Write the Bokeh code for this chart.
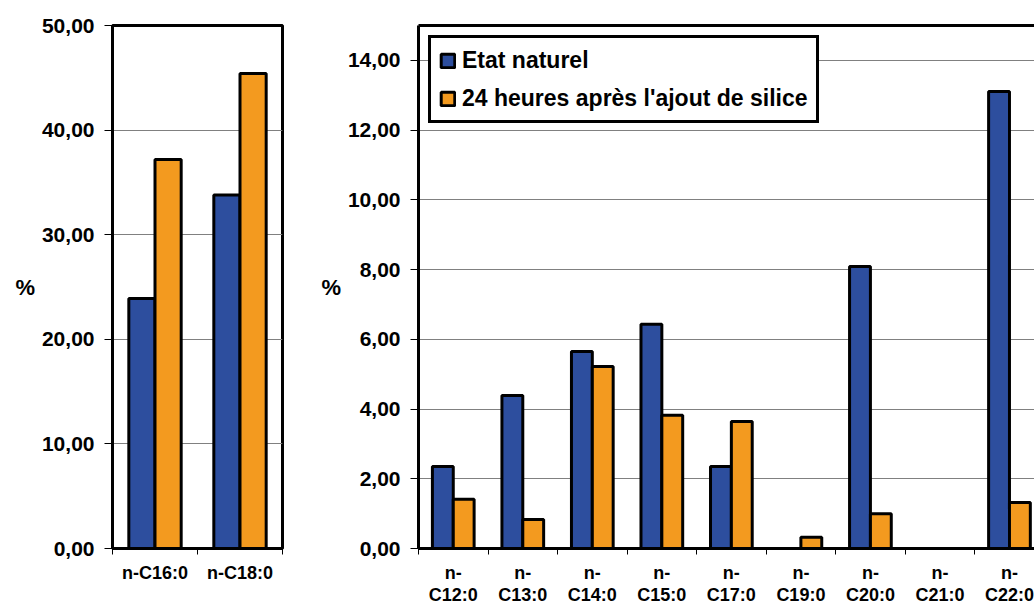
import numpy as np
from bokeh.plotting import figure
from bokeh.models import Range1d, FixedTicker, Legend, LegendItem, LinearAxis, ColumnDataSource
from bokeh.transform import dodge
from bokeh.layouts import row
from bokeh.embed import file_html
from bokeh.resources import INLINE

# ---------------- data ----------------
series_names = ["Etat naturel", "24 heures après l'ajout de silice"]

left_categories = ["n-C16:0", "n-C18:0"]
left_natural = [23.9, 33.8]
left_silica = [37.2, 45.4]
left_y_ticks = [0, 10, 20, 30, 40, 50]

right_categories = ["n-C12:0", "n-C13:0", "n-C14:0", "n-C15:0", "n-C17:0",
                    "n-C19:0", "n-C20:0", "n-C21:0", "n-C22:0"]
right_natural = [2.35, 4.39, 5.65, 6.43, 2.35, 0.0, 8.09, 0.0, 13.11]
right_silica = [1.41, 0.83, 5.22, 3.82, 3.64, 0.32, 1.00, 0.0, 1.32]
right_y_ticks = [0, 2, 4, 6, 8, 10, 12, 14]

BLUE = "#2D4E9E"
ORANGE = "#F39A1F"
FONT = "Liberation Sans"


def fmt(v):
    return f"{v:.2f}".replace(".", ",")


def style(p, cats, yticks, xlabels):
    n = len(cats)
    centers = list(np.arange(n) + 0.5)
    bounds = list(np.arange(n + 1).astype(float))
    p.background_fill_color = "white"
    p.border_fill_color = "white"
    p.xgrid.grid_line_color = None
    p.ygrid.ticker = FixedTicker(ticks=yticks)
    p.ygrid.grid_line_color = "#808080"
    p.ygrid.grid_line_width = 1

    ya = p.yaxis[0]
    ya.ticker = FixedTicker(ticks=yticks)
    ya.major_label_overrides = {v: fmt(v) for v in yticks}
    ya.major_label_text_font = FONT
    ya.major_label_text_font_style = "bold"
    ya.major_label_text_font_size = "21px"
    ya.major_label_text_color = "black"
    ya.major_tick_out = 8
    ya.major_tick_in = 0
    ya.major_tick_line_color = "black"
    ya.minor_tick_line_color = None
    ya.major_label_standoff = 10
    ya.axis_label = "%"
    ya.axis_label_orientation = "horizontal"
    ya.axis_label_text_font = FONT
    ya.axis_label_text_font_style = "bold"
    ya.axis_label_text_font_size = "22px"
    ya.axis_label_text_color = "black"
    ya.axis_label_text_baseline = "top"
    ya.axis_label_standoff = 4
    ya.axis_line_width = 3

    xa = p.xaxis[0]
    xa.ticker = FixedTicker(ticks=centers, minor_ticks=bounds)
    xa.major_label_overrides = {c: lab for c, lab in zip(centers, xlabels)}
    xa.major_label_text_font = FONT
    xa.major_label_text_font_style = "bold"
    xa.major_label_text_font_size = "18px"
    xa.major_label_text_line_height = 1.1
    xa.major_label_text_color = "black"
    xa.major_tick_in = 0
    xa.major_tick_out = 0
    xa.minor_tick_in = 0
    xa.minor_tick_out = 6
    xa.minor_tick_line_color = "black"
    xa.major_label_standoff = 8
    xa.axis_line_width = 3


def bars(p, cats, nat, sil, width):
    src = ColumnDataSource(dict(x=list(np.arange(len(cats)) + 0.5), nat=nat, sil=sil))
    r1 = p.vbar(x=dodge("x", -width / 2, range=p.x_range), top="nat", width=width, source=src,
                fill_color=BLUE, line_color="black", line_width=3)
    r2 = p.vbar(x=dodge("x", width / 2, range=p.x_range), top="sil", width=width, source=src,
                fill_color=ORANGE, line_color="black", line_width=3)
    return r1, r2


# ---------------- left chart ----------------
p1 = figure(width=300, height=607, x_range=Range1d(0, len(left_categories)),
            y_range=Range1d(0, left_y_ticks[-1]),
            output_backend="svg", toolbar_location=None,
            min_border_left=112, min_border_right=18, min_border_top=25, min_border_bottom=59)
style(p1, left_categories, left_y_ticks, left_categories)
p1.outline_line_color = "black"
p1.outline_line_width = 3
bars(p1, left_categories, left_natural, left_silica, 0.308)

# ---------------- right chart ----------------
p2 = figure(width=734, height=607, x_range=Range1d(0, 8.86),
            y_range=Range1d(0, 15),
            output_backend="svg", toolbar_location=None,
            min_border_left=118, min_border_right=0, min_border_top=25, min_border_bottom=59)
style(p2, right_categories, right_y_ticks, [c.replace("n-", "n-\n") for c in right_categories])
p2.outline_line_color = None
top_axis = LinearAxis(ticker=FixedTicker(ticks=[]), axis_line_width=3, axis_line_color="black",
                      major_tick_line_color=None, minor_tick_line_color=None,
                      major_label_text_font_size="0px")
p2.add_layout(top_axis, "above")
r1, r2 = bars(p2, right_categories, right_natural, right_silica, 0.30)

legend = Legend(items=[LegendItem(label=series_names[0], renderers=[r1]),
                       LegendItem(label=series_names[1], renderers=[r2])],
                location="top_left", margin=10, padding=8, spacing=10,
                label_height=28, glyph_height=17, glyph_width=17, label_standoff=6,
                label_text_font=FONT, label_text_font_style="bold", label_text_font_size="23px",
                label_text_color="black", border_line_color="black", border_line_width=3,
                border_line_alpha=1.0,
                background_fill_color="white", background_fill_alpha=1.0)
p2.add_layout(legend, "center")

layout = row(p1, p2)
open("out.html", "w").write(file_html(layout, INLINE))
